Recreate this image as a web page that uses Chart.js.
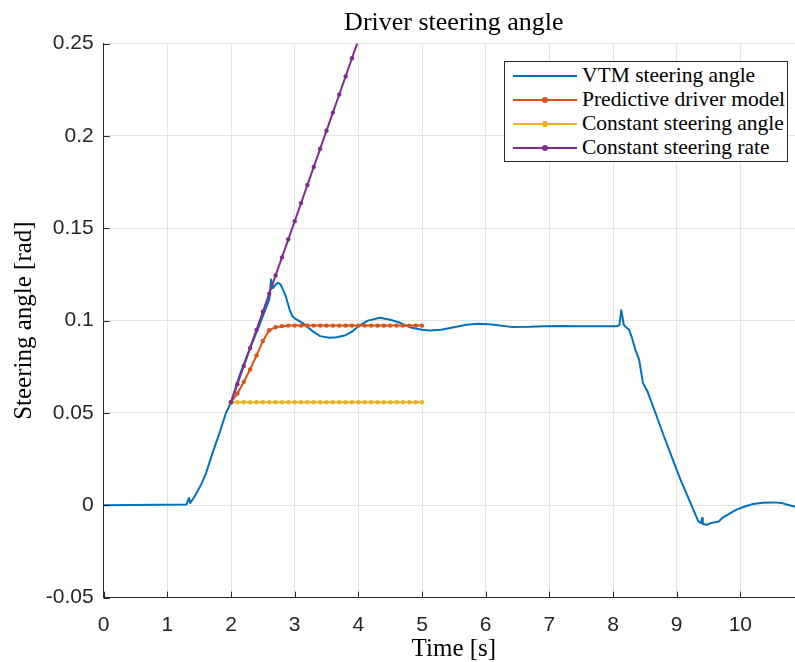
<!DOCTYPE html>
<html>
<head>
<meta charset="utf-8">
<script src="https://cdn.jsdelivr.net/npm/chart.js@4.4.1/dist/chart.umd.min.js"></script>
<style>
  html, body { margin: 0; padding: 0; background: #fff; overflow: hidden; }
  #wrap { position: relative; width: 795px; height: 662px; overflow: hidden; }
  #chart { position: absolute; left: 0; top: 0; }
  #legend {
    position: absolute; left: 504px; top: 61px; width: 284px; height: 101px;
    border: 1px solid #262626; background: #fff; box-sizing: border-box;
    font-family: "Liberation Serif", serif; font-size: 21.5px; color: #000;
  }
  .row { position: absolute; left: 0; height: 24px; line-height: 24px; white-space: nowrap; }
  .swatch { position: absolute; left: 8px; top: 11px; width: 64px; height: 2px; }
  .dot { position: absolute; left: 29px; top: -2px; width: 6px; height: 6px; border-radius: 3px; }
  .label { position: absolute; left: 77px; top: -1px; }
</style>
</head>
<body>
<div id="wrap">
  <canvas id="chart" width="808" height="662"></canvas>
  <div id="legend"></div>
</div>
<script>
// VTM steering angle (blue)
const vtmTime = [0, 1.30, 1.34, 1.36, 1.43, 1.53, 1.61, 1.71, 1.82, 1.92, 2.00, 2.13, 2.29, 2.44, 2.56, 2.60, 2.63, 2.66, 2.70, 2.74, 2.78, 2.86, 2.92, 2.96, 3.00, 3.12, 3.28, 3.40, 3.54, 3.66, 3.80, 3.90, 4.00, 4.15, 4.34, 4.50, 4.63, 4.84, 5.00, 5.12, 5.30, 5.46, 5.70, 5.88, 6.05, 6.19, 6.40, 6.70, 6.92, 7.20, 7.44, 7.80, 8.07, 8.10, 8.13, 8.17, 8.21, 8.25, 8.30, 8.35, 8.41, 8.47, 8.54, 8.67, 8.80, 8.93, 9.06, 9.20, 9.34, 9.38, 9.40, 9.41, 9.47, 9.55, 9.66, 9.73, 9.83, 9.94, 10.07, 10.20, 10.35, 10.52, 10.65, 10.80, 10.90];
const vtmAngle = [0, 0.0004, 0.0040, 0.0013, 0.0049, 0.0112, 0.0176, 0.0284, 0.0392, 0.0500, 0.0558, 0.0699, 0.0843, 0.0970, 0.1078, 0.1114, 0.1223, 0.1175, 0.1195, 0.1205, 0.1195, 0.1132, 0.1060, 0.1025, 0.1012, 0.0988, 0.0943, 0.0916, 0.0907, 0.0910, 0.0921, 0.0940, 0.0970, 0.1000, 0.1015, 0.1005, 0.0991, 0.0961, 0.0950, 0.0946, 0.0950, 0.0961, 0.0978, 0.0983, 0.0980, 0.0975, 0.0966, 0.0967, 0.0970, 0.0971, 0.0970, 0.0970, 0.0970, 0.0975, 0.1056, 0.0976, 0.0962, 0.0952, 0.0905, 0.0843, 0.0789, 0.0663, 0.0618, 0.0497, 0.0374, 0.0256, 0.0139, 0.0027, -0.0087, -0.0095, -0.0068, -0.0101, -0.0105, -0.0095, -0.0087, -0.0065, -0.0045, -0.0023, -0.0006, 0.0007, 0.0014, 0.0016, 0.0012, -0.0002, -0.0010];

// prediction time steps (markers every 0.1 s)
const predTime = [2.0, 2.1, 2.2, 2.3, 2.4, 2.5, 2.6, 2.7, 2.8, 2.9, 3.0, 3.1, 3.2, 3.3, 3.4, 3.5, 3.6, 3.7, 3.8, 3.9, 4.0, 4.1, 4.2, 4.3, 4.4, 4.5, 4.6, 4.7, 4.8, 4.9, 5.0];
const predictiveAngle = [0.0558, 0.0605, 0.0668, 0.0735, 0.0811, 0.0889, 0.0948, 0.0964, 0.0970, 0.0973, 0.0973, 0.0973, 0.0973, 0.0973, 0.0973, 0.0973, 0.0973, 0.0973, 0.0973, 0.0973, 0.0973, 0.0973, 0.0973, 0.0973, 0.0973, 0.0973, 0.0973, 0.0973, 0.0973, 0.0973, 0.0973];
const constAngle = [0.0558, 0.0558, 0.0558, 0.0558, 0.0558, 0.0558, 0.0558, 0.0558, 0.0558, 0.0558, 0.0558, 0.0558, 0.0558, 0.0558, 0.0558, 0.0558, 0.0558, 0.0558, 0.0558, 0.0558, 0.0558, 0.0558, 0.0558, 0.0558, 0.0558, 0.0558, 0.0558, 0.0558, 0.0558, 0.0558, 0.0558];
const rateTime = [2.0, 2.1, 2.2, 2.3, 2.4, 2.5, 2.6, 2.7, 2.8, 2.9, 3.0, 3.1, 3.2, 3.3, 3.4, 3.5, 3.6, 3.7, 3.8, 3.9, 4.0];
const rateAngle = [0.0558, 0.0656, 0.0754, 0.0852, 0.0950, 0.1048, 0.1146, 0.1244, 0.1342, 0.1440, 0.1538, 0.1636, 0.1734, 0.1832, 0.1930, 0.2028, 0.2126, 0.2224, 0.2322, 0.2420, 0.2518];

// axis runs to 11 s but the picture is cut off just before it
const xTicks = [0, 1, 2, 3, 4, 5, 6, 7, 8, 9, 10];
const yTicks = [-0.05, 0, 0.05, 0.1, 0.15, 0.2, 0.25];

const seriesNames = ["VTM steering angle", "Predictive driver model", "Constant steering angle", "Constant steering rate"];
const seriesColors = ["#0072BD", "#D95319", "#EDB120", "#7E2F8E"];

function pairs(xs, ys) {
    return xs.map(function (x, i) { return {x: x, y: ys[i]}; });
}

const axisColor = "#262626";
const gridColor = "#e4e4e4";

// MATLAB style inward tick marks
const innerTicks = {
    id: "innerTicks",
    afterDatasetsDraw(chart) {
        const ctx = chart.ctx;
        const xs = chart.scales.x, ys = chart.scales.y;
        const a = chart.chartArea;
        ctx.save();
        ctx.strokeStyle = axisColor;
        ctx.lineWidth = 1;
        ctx.beginPath();
        xTicks.forEach(function (v) {
            const px = Math.round(xs.getPixelForValue(v)) + 0.5;
            ctx.moveTo(px, a.bottom);
            ctx.lineTo(px, a.bottom - 6);
        });
        yTicks.forEach(function (v) {
            const py = Math.round(ys.getPixelForValue(v)) + 0.5;
            ctx.moveTo(a.left, py);
            ctx.lineTo(a.left + 6, py);
        });
        ctx.stroke();
        ctx.restore();
    }
};

const tickFont = {family: "'Liberation Sans', Arial, sans-serif", size: 21};
const serifFont = "'Liberation Serif', 'Times New Roman', serif";

const chart = new Chart(document.getElementById("chart"), {
    type: "line",
    data: {
        datasets: [
            {
                label: seriesNames[0],
                data: pairs(vtmTime, vtmAngle),
                borderColor: seriesColors[0],
                borderWidth: 2,
                borderJoinStyle: "round",
                pointRadius: 0,
                order: 4,
            },
            {
                label: seriesNames[1],
                data: pairs(predTime, predictiveAngle),
                borderColor: seriesColors[1],
                backgroundColor: seriesColors[1],
                borderWidth: 2,
                borderJoinStyle: "round",
                pointRadius: 2.2,
                pointBorderWidth: 0,
                order: 3,
            },
            {
                label: seriesNames[2],
                data: pairs(predTime, constAngle),
                borderColor: seriesColors[2],
                backgroundColor: seriesColors[2],
                borderWidth: 2,
                pointRadius: 2.2,
                pointBorderWidth: 0,
                order: 2,
            },
            {
                label: seriesNames[3],
                data: pairs(rateTime, rateAngle),
                borderColor: seriesColors[3],
                backgroundColor: seriesColors[3],
                borderWidth: 2,
                pointRadius: 2.2,
                pointBorderWidth: 0,
                order: 1,
            },
        ],
    },
    options: {
        responsive: false,
        animation: false,
        devicePixelRatio: 1,
        layout: {padding: 0},
        elements: {line: {tension: 0}},
        plugins: {
            legend: {display: false},
            tooltip: {enabled: false},
            title: {
                display: true,
                fullSize: false,
                text: "Driver steering angle",
                color: "#000",
                font: {family: serifFont, size: 26, weight: "normal", lineHeight: 1.2},
                padding: {top: 8, bottom: 4.3},
            },
        },
        scales: {
            x: {
                type: "linear",
                min: 0,
                max: 11,
                afterFit: function (scale) {
                    scale.height = 64.3;
                    scale.paddingLeft = 0;
                    scale.paddingRight = 0;
                },
                ticks: {
                    stepSize: 1,
                    color: axisColor,
                    font: tickFont,
                    padding: 15,
                    maxRotation: 0,
                    callback: function (v) { return v > 10 ? "" : String(v); },
                },
                grid: {color: gridColor, drawTicks: false},
                border: {color: axisColor, width: 1},
                title: {
                    display: true,
                    text: "Time [s]",
                    color: "#000",
                    font: {family: serifFont, size: 25, lineHeight: 1},
                    padding: {top: 0, bottom: 0},
                },
            },
            y: {
                type: "linear",
                min: -0.05,
                max: 0.25,
                afterFit: function (scale) {
                    scale.width = 103.7;
                    scale.paddingTop = 0;
                    scale.paddingBottom = 0;
                },
                ticks: {
                    stepSize: 0.05,
                    color: axisColor,
                    font: tickFont,
                    padding: 10,
                    callback: function (v) { return String(Number(v.toFixed(2))); },
                },
                grid: {color: gridColor, drawTicks: false},
                border: {color: axisColor, width: 1},
                title: {
                    display: true,
                    text: "Steering angle [rad]",
                    color: "#000",
                    font: {family: serifFont, size: 25, lineHeight: 1},
                    padding: {top: 12, bottom: 0},
                },
            },
        },
    },
    plugins: [innerTicks],
});

// legend box drawn as html on top of the plot
const legendBox = document.getElementById("legend");
seriesNames.forEach(function (name, i) {
    const row = document.createElement("div");
    row.className = "row";
    row.style.top = (2 + i * 24) + "px";
    const sw = document.createElement("div");
    sw.className = "swatch";
    sw.style.background = seriesColors[i];
    if (i > 0) {
        const dot = document.createElement("div");
        dot.className = "dot";
        dot.style.background = seriesColors[i];
        sw.appendChild(dot);
    }
    const lab = document.createElement("span");
    lab.className = "label";
    lab.textContent = name;
    row.appendChild(sw);
    row.appendChild(lab);
    legendBox.appendChild(row);
});
</script>
</body>
</html>
